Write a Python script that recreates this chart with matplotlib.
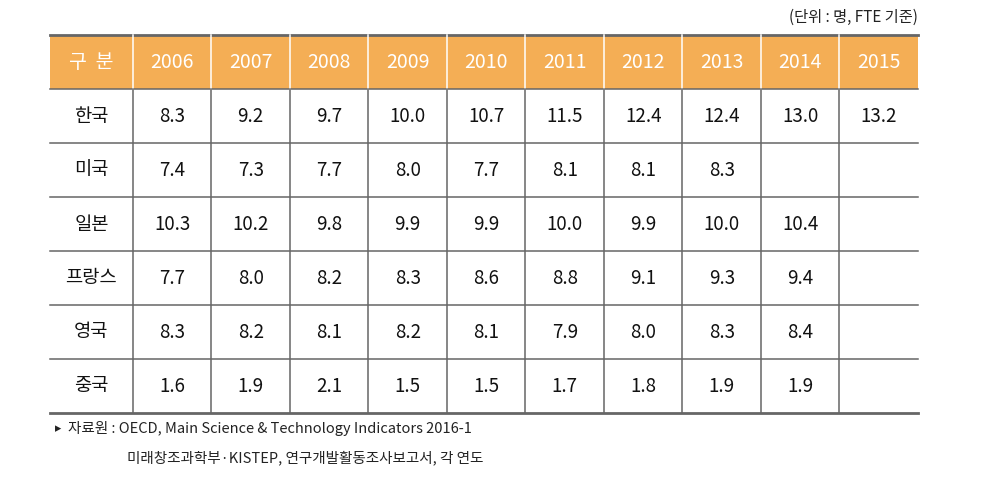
import matplotlib.pyplot as plt
from matplotlib.patches import Rectangle

plt.rcParams['font.family'] = ['Noto Sans CJK KR', 'DejaVu Sans']

years = ['2006', '2007', '2008', '2009', '2010', '2011', '2012', '2013', '2014', '2015']
countries = ['한국', '미국', '일본', '프랑스', '영국', '중국']
korea = [8.3, 9.2, 9.7, 10.0, 10.7, 11.5, 12.4, 12.4, 13.0, 13.2]
usa = [7.4, 7.3, 7.7, 8.0, 7.7, 8.1, 8.1, 8.3, None, None]
japan = [10.3, 10.2, 9.8, 9.9, 9.9, 10.0, 9.9, 10.0, 10.4, None]
france = [7.7, 8.0, 8.2, 8.3, 8.6, 8.8, 9.1, 9.3, 9.4, None]
uk = [8.3, 8.2, 8.1, 8.2, 8.1, 7.9, 8.0, 8.3, 8.4, None]
china = [1.6, 1.9, 2.1, 1.5, 1.5, 1.7, 1.8, 1.9, 1.9, None]
rows = [korea, usa, japan, france, uk, china]

unit_text = '(단위 : 명, FTE 기준)'
source1 = '자료원 : OECD, Main Science & Technology Indicators 2016-1'
source2 = '미래창조과학부·KISTEP, 연구개발활동조사보고서, 각 연도'

W, H = 1003, 479
fig = plt.figure(figsize=(W / 100, H / 100), dpi=100)
ax = fig.add_axes([0, 0, 1, 1])
ax.set_xlim(0, W)
ax.set_ylim(H, 0)
ax.axis('off')

left, right = 50, 918
first_w = 83
col_w = (right - left - first_w) / len(years)
top = 35
row_h = 54
line_c = '#666666'
head_c = '#F4AE55'

# header
ax.add_patch(Rectangle((left, top), right - left, row_h, color=head_c, lw=0))
ax.text(left + first_w / 2, top + row_h / 2, '구  분', ha='center', va='center',
        color='white', fontsize=14, fontweight='medium')
for i, y in enumerate(years):
    cx = left + first_w + col_w * (i + 0.5)
    ax.text(cx, top + row_h / 2, y, ha='center', va='center', color='white',
            fontsize=14, fontweight='medium')

# body
for r, (name, vals) in enumerate(zip(countries, rows)):
    cy = top + row_h * (r + 1.5)
    ax.text(left + first_w / 2, cy, name, ha='center', va='center', fontsize=13.5, color='#111111')
    for i, v in enumerate(vals):
        if v is None:
            continue
        cx = left + first_w + col_w * (i + 0.5)
        ax.text(cx, cy, f'{v:.1f}', ha='center', va='center', fontsize=13.5, color='#111111')

bottom = top + row_h * (len(countries) + 1)

# lines
ax.plot([left, right], [top, top], color=line_c, lw=2)
ax.plot([left, right], [bottom, bottom], color=line_c, lw=2)
for r in range(1, len(countries) + 1):
    yy = top + row_h * r
    ax.plot([left, right], [yy, yy], color=line_c, lw=1.1)
for i in range(len(years)):
    xx = left + first_w + col_w * i
    ax.plot([xx, xx], [top, top + row_h], color='white', lw=1.1)
    ax.plot([xx, xx], [top + row_h, bottom], color=line_c, lw=1.1)

# notes
ax.text(right, 17, unit_text, ha='right', va='center', fontsize=11, color='#222222')
ax.text(55, 429, '▸', ha='left', va='center', fontsize=9, color='#222222',
        family=['DejaVu Sans'])
ax.text(68, 429, source1, ha='left', va='center', fontsize=10.5, color='#222222')
ax.text(127, 458, source2, ha='left', va='center', fontsize=10.5, color='#222222')

fig.savefig('out.png', dpi=100)
